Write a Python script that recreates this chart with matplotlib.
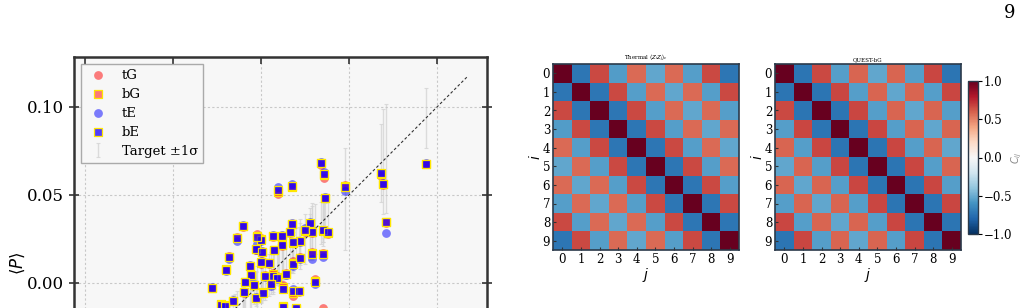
import matplotlib
matplotlib.use("Agg")
import matplotlib.pyplot as plt
import numpy as np

plt.rcParams['font.family'] = ['DejaVu Serif']
plt.rcParams['mathtext.fontset'] = 'dejavusans'

# ---------------- data: scatter (target vs model) ----------------
target = [0.0936, 0.0682, 0.0691, 0.0708, 0.0477, 0.0339, 0.0358, 0.0364, 0.0176, 0.0095,
          0.0278, 0.0350, 0.0381, 0.0292, 0.0250, 0.0174, 0.0165, 0.0222, 0.0184, 0.0118,
          0.0118, 0.0070, 0.0076, 0.0000, -0.0025, -0.0030, 0.0004, -0.0002, 0.0047, -0.0062,
          -0.0059, -0.0090, -0.0040, -0.0095, -0.0028, 0.0013, 0.0023, 0.0070, 0.0091, 0.0055,
          0.0123, 0.0140, 0.0180, 0.0218, 0.0184, 0.0222, 0.0288, 0.0354, 0.0307, -0.0104,
          -0.0134, -0.0180, -0.0199, -0.0280, -0.0161, -0.0229, -0.0205, 0.0123, 0.0200, 0.0350,
          -0.0350, -0.0420, -0.0500, -0.0600, -0.0300, 0.0000, 0.0100, -0.0100, -0.0150, 0.0280]
sigma = [0.017, 0.022, 0.030, 0.031, 0.029, 0.012, 0.010, 0.009, 0.008, 0.010,
         0.015, 0.014, 0.012, 0.016, 0.014, 0.012, 0.010, 0.012, 0.009, 0.011,
         0.010, 0.012, 0.011, 0.010, 0.012, 0.010, 0.009, 0.011, 0.012, 0.012,
         0.010, 0.011, 0.008, 0.010, 0.009, 0.011, 0.012, 0.013, 0.010, 0.012,
         0.010, 0.012, 0.011, 0.010, 0.013, 0.014, 0.015, 0.012, 0.014, 0.008,
         0.009, 0.008, 0.009, 0.010, 0.009, 0.008, 0.009, 0.010, 0.011, 0.012,
         0.010, 0.011, 0.012, 0.013, 0.010, 0.011, 0.012, 0.010, 0.009, 0.011]
p_bE = [0.0678, 0.0623, 0.0563, 0.0348, 0.0546, 0.0684, 0.0619, 0.0485, 0.0553, 0.0530,
        0.0339, 0.0301, 0.0288, 0.0292, 0.0300, 0.0335, 0.0290, 0.0239, 0.0231, 0.0267,
        0.0216, 0.0267, 0.0188, 0.0244, 0.0260, 0.0194, 0.0178, 0.0121, 0.0114, 0.0099,
        0.0043, 0.0006, -0.0009, -0.0050, -0.0085, -0.0055, 0.0040, 0.0042, 0.0030, -0.0007,
        -0.0035, 0.0048, -0.0045, -0.0045, 0.0110, 0.0140, 0.0165, 0.0165, 0.0005, 0.0326,
        0.0254, 0.0146, 0.0076, -0.0027, -0.0100, -0.0125, -0.0130, -0.0135, -0.0145, -0.0170,
        -0.0250, -0.0300, -0.0400, -0.0450, -0.0220, -0.0200, -0.0250, -0.0180, -0.0260, -0.0220]
p_bG = [0.0678, 0.0620, 0.0560, 0.0345, 0.0550, 0.0680, 0.0612, 0.0483, 0.0548, 0.0518,
        0.0336, 0.0298, 0.0285, 0.0289, 0.0296, 0.0333, 0.0288, 0.0240, 0.0228, 0.0266,
        0.0213, 0.0264, 0.0187, 0.0248, 0.0268, 0.0192, 0.0175, 0.0115, 0.0112, 0.0097,
        0.0044, 0.0006, -0.0010, -0.0052, -0.0085, -0.0052, 0.0042, 0.0048, 0.0034, -0.0006,
        -0.0025, 0.0051, -0.0058, -0.0047, 0.0115, 0.0142, 0.0169, 0.0167, 0.0012, 0.0323,
        0.0257, 0.0149, 0.0078, -0.0028, -0.0102, -0.0122, -0.0128, -0.0132, -0.0148, -0.0165,
        -0.0250, -0.0300, -0.0400, -0.0450, -0.0220, -0.0200, -0.0250, -0.0180, -0.0260, -0.0220]
p_tG = [0.0676, 0.0610, 0.0555, 0.0340, 0.0555, 0.0670, 0.0597, 0.0480, 0.0545, 0.0505,
        0.0330, 0.0295, 0.0280, 0.0285, 0.0290, 0.0330, 0.0285, 0.0240, 0.0225, 0.0265,
        0.0210, 0.0260, 0.0185, 0.0255, 0.0278, 0.0190, 0.0170, 0.0105, 0.0110, 0.0095,
        0.0045, 0.0005, -0.0010, -0.0055, -0.0085, -0.0050, 0.0045, 0.0055, 0.0040, -0.0005,
        -0.0010, 0.0055, -0.0075, -0.0050, 0.0125, 0.0145, 0.0175, 0.0170, 0.0025, 0.0318,
        0.0262, 0.0153, 0.0080, -0.0030, -0.0105, -0.0120, -0.0125, -0.0130, -0.0150, -0.0142,
        -0.0250, -0.0300, -0.0400, -0.0450, -0.0220, -0.0200, -0.0250, -0.0180, -0.0260, -0.0220]
p_tE = [0.0680, 0.0625, 0.0570, 0.0284, 0.0524, 0.0690, 0.0630, 0.0490, 0.0565, 0.0545,
        0.0345, 0.0300, 0.0290, 0.0300, 0.0315, 0.0340, 0.0295, 0.0235, 0.0230, 0.0270,
        0.0220, 0.0270, 0.0190, 0.0240, 0.0222, 0.0185, 0.0180, 0.0125, 0.0115, 0.0100,
        0.0040, 0.0006, -0.0005, -0.0050, -0.0080, -0.0058, 0.0035, 0.0040, 0.0020, -0.0020,
        -0.0035, 0.0045, -0.0035, -0.0045, 0.0095, 0.0135, 0.0135, 0.0150, -0.0008, 0.0330,
        0.0236, 0.0138, 0.0070, -0.0025, -0.0095, -0.0135, -0.0138, -0.0140, -0.0150, -0.0175,
        -0.0250, -0.0300, -0.0400, -0.0450, -0.0220, -0.0200, -0.0250, -0.0180, -0.0260, -0.0220]
diag_range = [-0.105, 0.1176]
scatter_ticks = [-0.10, -0.05, 0.00, 0.05, 0.10]
ytick_labels = ['-0.10', '-0.05', '0.00', '0.05', '0.10']

# ---------------- data: correlation matrices ----------------
thermal = np.array([
    [1.00, -0.72, 0.66, -0.56, 0.57, -0.52, 0.57, -0.55, 0.66, -0.72],
    [-0.72, 1.00, -0.72, 0.66, -0.55, 0.57, -0.52, 0.57, -0.55, 0.66],
    [0.66, -0.72, 1.00, -0.72, 0.66, -0.55, 0.57, -0.52, 0.57, -0.55],
    [-0.56, 0.66, -0.72, 1.00, -0.72, 0.66, -0.55, 0.57, -0.52, 0.57],
    [0.57, -0.55, 0.66, -0.72, 1.00, -0.72, 0.66, -0.55, 0.57, -0.52],
    [-0.52, 0.57, -0.55, 0.66, -0.72, 1.00, -0.72, 0.66, -0.55, 0.57],
    [0.57, -0.52, 0.57, -0.55, 0.66, -0.72, 1.00, -0.72, 0.66, -0.55],
    [-0.55, 0.57, -0.52, 0.57, -0.55, 0.66, -0.72, 1.00, -0.72, 0.66],
    [0.66, -0.55, 0.57, -0.52, 0.57, -0.55, 0.66, -0.72, 1.00, -0.72],
    [-0.72, 0.66, -0.55, 0.57, -0.52, 0.57, -0.55, 0.66, -0.72, 1.00]])
quest_bG = np.array([
    [1.00, -0.73, 0.66, -0.55, 0.58, -0.52, 0.58, -0.55, 0.67, -0.73],
    [-0.73, 1.00, -0.73, 0.67, -0.55, 0.58, -0.52, 0.58, -0.55, 0.67],
    [0.66, -0.73, 1.00, -0.73, 0.67, -0.55, 0.58, -0.52, 0.58, -0.55],
    [-0.55, 0.67, -0.73, 1.00, -0.73, 0.67, -0.55, 0.58, -0.52, 0.58],
    [0.58, -0.55, 0.67, -0.73, 1.00, -0.73, 0.67, -0.55, 0.58, -0.52],
    [-0.52, 0.58, -0.55, 0.67, -0.73, 1.00, -0.73, 0.67, -0.55, 0.58],
    [0.58, -0.52, 0.58, -0.55, 0.67, -0.73, 1.00, -0.73, 0.67, -0.55],
    [-0.55, 0.58, -0.52, 0.58, -0.55, 0.67, -0.73, 1.00, -0.73, 0.67],
    [0.67, -0.55, 0.58, -0.52, 0.58, -0.55, 0.67, -0.73, 1.00, -0.73],
    [-0.73, 0.67, -0.55, 0.58, -0.52, 0.58, -0.55, 0.67, -0.73, 1.00]])
sites = list(range(10))
heat_titles = [r'Thermal $\langle Z_iZ_j\rangle_c$', 'QUEST-bG']
cbar_ticks = [-1.0, -0.5, 0.0, 0.5, 1.0]

# ---------------- figure ----------------
fig = plt.figure(figsize=(10.24, 3.08), dpi=100)

ax = fig.add_axes([74/1024, (308-470)/308, 413/1024, 413/308])
ax.set_facecolor('#f7f7f7')
ax.errorbar(target, target, yerr=sigma, fmt='none', ecolor='#d4d4d4', elinewidth=1.0,
            capsize=1.5, capthick=0.8, alpha=0.8, zorder=1, label='Target ±1σ')
ax.plot(diag_range, diag_range, color='#333333', lw=0.8, ls=(0, (2.5, 2)), zorder=2)
ax.scatter(target, p_tG, s=40, marker='o', color='red', alpha=0.5, lw=0, zorder=3, label='tG')
ax.scatter(target, p_bG, s=32, marker='s', facecolor=(1, 0.15, 0.15, 0.6),
           edgecolor='#ffe600', lw=0.9, zorder=4, label='bG')
ax.scatter(target, p_tE, s=40, marker='o', color='blue', alpha=0.5, lw=0, zorder=5, label='tE')
ax.scatter(target, p_bE, s=32, marker='s', facecolor=(0.1, 0.0, 1.0, 0.75),
           edgecolor='#ffe600', lw=0.9, zorder=6, label='bE')
ax.set_xlim(-0.1063, 0.1284)
ax.set_ylim(-0.1063, 0.1284)
ax.set_xticks(scatter_ticks)
ax.set_yticks(scatter_ticks)
ax.set_yticklabels(ytick_labels)
ax.set_xticklabels([])
ax.grid(True, color='#c8c8c8', ls=(0, (2, 2)), lw=0.8)
ax.tick_params(axis='y', direction='inout', length=7, width=1.2, labelsize=12, right=True,
               color='#333333')
ax.tick_params(axis='x', direction='in', length=5, width=1.2, top=True, color='#333333')
for sp in ax.spines.values():
    sp.set_color('#333333')
    sp.set_linewidth(1.8)
ax.set_ylabel(r'$\langle P\rangle$', fontsize=12)
ax.yaxis.set_label_coords(-0.115, 0.5)

handles, labels = ax.get_legend_handles_labels()
order = [labels.index(l) for l in ['tG', 'bG', 'tE', 'bE', 'Target ±1σ']]
leg = ax.legend([handles[i] for i in order], [labels[i] for i in order], loc='upper left',
                fontsize=9.5, fancybox=False, edgecolor='#aaaaaa', facecolor='#f7f7f7',
                framealpha=1, borderaxespad=0.5, handletextpad=0.9, handlelength=1.8,
                labelspacing=0.45, borderpad=0.4)
leg.get_frame().set_linewidth(1.0)

# heatmaps
heat_pos = [[553/1024, (308-250)/308, 186/1024, 186/308],
            [775/1024, (308-250)/308, 186/1024, 186/308]]
mats = [thermal, quest_bG]
im = None
for pos, mat, title in zip(heat_pos, mats, heat_titles):
    hx = fig.add_axes(pos)
    im = hx.imshow(mat, cmap='RdBu_r', vmin=-1, vmax=1, aspect='auto', interpolation='nearest')
    hx.set_xticks(sites)
    hx.set_yticks(sites)
    hx.tick_params(direction='in', length=2, labelsize=8.5, pad=2, color='#333333')
    hx.set_xlabel(r'$j$', fontsize=10, labelpad=0)
    hx.set_ylabel(r'$i$', fontsize=10, labelpad=0)
    hx.set_title(title, fontsize=4, pad=2)
    for sp in hx.spines.values():
        sp.set_color('#2b3a4a')
        sp.set_linewidth(1.2)

cax = fig.add_axes([968/1024, (308-234)/308, 10/1024, 153/308])
cb = fig.colorbar(im, cax=cax, ticks=cbar_ticks)
cb.ax.tick_params(labelsize=8.5, length=3, direction='out', pad=1)
cb.outline.set_edgecolor('#2b3a4a')
cb.outline.set_linewidth(1.0)
cb.set_label(r'$C_{ij}$', fontsize=7, color='#888888', labelpad=-2)

fig.text(1010/1024, 1 - 13/308, '9', fontsize=13, ha='center', va='center')

fig.savefig('out.png', dpi=100)
